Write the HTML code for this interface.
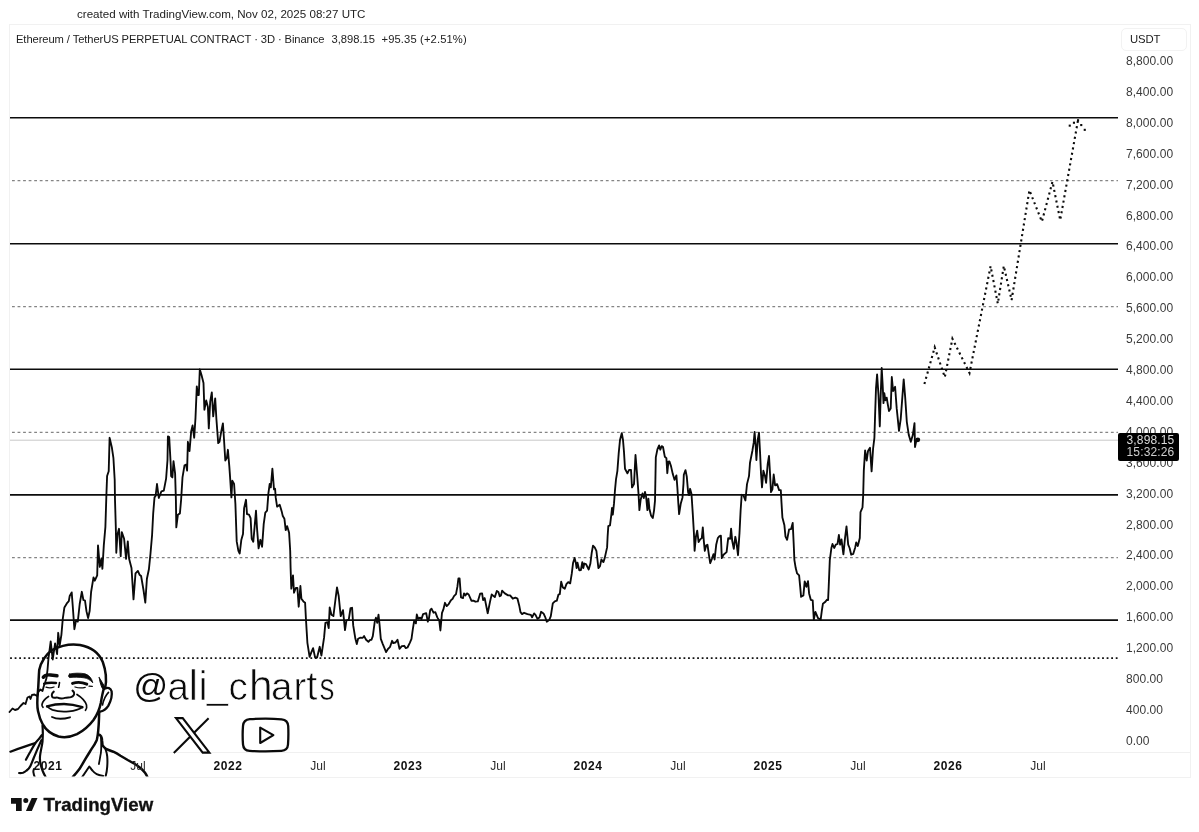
<!DOCTYPE html>
<html><head><meta charset="utf-8"><title>ETHUSDT chart</title>
<style>
html,body{margin:0;padding:0;background:#fff;}
body{width:1199px;height:832px;position:relative;overflow:hidden;font-family:"Liberation Sans",sans-serif;color:#222;}
.t{position:absolute;white-space:nowrap;line-height:1;}
#frame{position:absolute;left:9px;top:24px;width:1182px;height:753.5px;border:1px solid #f1f1f1;box-sizing:border-box;}
#taxis{position:absolute;left:9px;top:752px;width:1181px;height:1px;background:#f0f0f0;}
.pl{position:absolute;left:1126px;font-size:12px;color:#3a3a3a;line-height:12px;height:12px;white-space:nowrap;letter-spacing:0.05px}
.tl{position:absolute;top:760.4px;font-size:12px;line-height:12px;color:#2a2a2a;white-space:nowrap;transform:translateX(-50%);}
.tl.b{font-weight:bold;color:#111;letter-spacing:0.6px}
#chart{position:absolute;left:0;top:0;}
</style></head><body>
<div class="t" id="hdr" style="left:77px;top:8px;font-size:11.6px;color:#222">created with TradingView.com, Nov 02, 2025 08:27 UTC</div>
<div id="frame"></div>
<div id="taxis"></div>
<div class="t" id="sym" style="left:16px;top:33.5px;font-size:11.2px;color:#222;letter-spacing:-0.09px">Ethereum / TetherUS PERPETUAL CONTRACT · 3D · Binance</div>
<div class="t" id="sym2" style="left:331.5px;top:33.5px;font-size:11.2px;color:#222">3,898.15</div>
<div class="t" id="sym3" style="left:381.5px;top:33.5px;font-size:11.2px;color:#222;letter-spacing:0.13px">+95.35 (+2.51%)</div>
<div id="usdt" style="position:absolute;left:1121px;top:28px;width:66px;height:23px;border:1px solid #f2f2f2;border-radius:5px;box-sizing:border-box;"></div>
<div class="t" style="left:1130px;top:33.5px;font-size:11.3px;color:#1a1a1a;letter-spacing:-0.1px">USDT</div>

<svg id="chart" width="1199" height="832" viewBox="0 0 1199 832">
<g id="hlines" stroke="#0c0c0c" stroke-width="1.6" fill="none">
<line x1="10" x2="1118" y1="117.7" y2="117.7"/>
<line x1="10" x2="1118" y1="243.8" y2="243.8"/>
<line x1="10" x2="1118" y1="369.3" y2="369.3"/>
<line x1="10" x2="1118" y1="494.9" y2="494.9"/>
<line x1="10" x2="1118" y1="620.1" y2="620.1"/>
</g>
<g id="dlines" stroke="#858585" stroke-width="1.3" fill="none" stroke-dasharray="2.8 2.75">
<line x1="12" x2="1118" y1="180.7" y2="180.7"/>
<line x1="12" x2="1118" y1="306.6" y2="306.6"/>
<line x1="12" x2="1118" y1="432.3" y2="432.3"/>
<line x1="12" x2="1118" y1="557.7" y2="557.7"/>
</g>
<line x1="10.1" x2="1118" y1="658.2" y2="658.2" stroke="#111" stroke-width="1.8" stroke-dasharray="1.8 2.75"/>
<line x1="10" x2="1118" y1="440.2" y2="440.2" stroke="#c8c8c8" stroke-width="1"/>
<path id="price" d="M9.5 712.0 L12.5 708.5 L15.0 710.0 L18.0 709.0 L20.5 706.0 L23.5 703.0 L25.5 704.0 L27.5 697.5 L29.5 696.5 L30.5 699.0 L32.0 694.8 L34.5 694.5 L37.0 696.0 L38.5 691.5 L40.5 689.5 L42.5 691.0 L44.0 685.5 L45.0 683.0 L46.5 678.0 L47.5 670.0 L48.5 658.0 L50.7 641.4 L52.7 659.5 L55.1 643.4 L57.1 654.1 L58.2 632.8 L59.7 645.4 L61.4 634.8 L62.8 618.7 L64.4 607.4 L66.8 603.4 L68.8 601.1 L69.7 596.0 L71.7 592.4 L72.8 606.7 L74.4 629.2 L76.1 620.1 L77.8 621.7 L79.7 604.0 L81.8 591.8 L83.4 600.0 L85.0 600.7 L86.5 611.4 L88.1 618.1 L89.7 610.7 L91.1 592.0 L93.5 577.4 L94.8 580.7 L97.2 575.4 L98.0 545.4 L99.8 566.8 L101.4 558.8 L102.4 568.8 L103.8 545.4 L105.4 526.8 L106.4 494.7 L107.1 476.0 L108.7 471.3 L109.6 437.8 L111.8 447.1 L113.4 457.8 L114.7 480.0 L115.0 500.0 L115.8 526.8 L116.3 552.8 L117.4 534.8 L119.0 528.8 L120.7 556.1 L121.8 532.1 L124.1 538.8 L126.1 558.8 L127.8 541.4 L129.1 558.8 L131.5 568.0 L133.5 599.4 L135.5 573.4 L137.9 570.9 L139.5 574.7 L141.1 576.0 L143.5 590.0 L145.3 602.7 L146.9 578.7 L148.9 569.3 L150.5 553.5 L152.1 534.8 L153.2 513.4 L154.5 497.4 L155.6 496.0 L157.0 484.0 L158.8 498.0 L161.4 491.4 L163.8 490.7 L166.1 478.7 L167.5 460.0 L167.9 436.4 L169.2 437.1 L170.8 466.0 L171.1 476.0 L172.4 477.4 L173.5 461.2 L175.1 473.4 L175.9 500.0 L176.3 527.4 L177.9 514.7 L179.9 513.4 L181.1 500.0 L182.5 477.4 L184.5 465.3 L186.1 464.7 L187.1 470.7 L187.9 441.8 L189.5 451.1 L191.2 431.1 L192.6 425.5 L194.2 437.8 L195.5 417.8 L196.8 386.4 L197.8 395.0 L198.8 395.0 L199.8 369.3 L201.5 375.0 L203.5 383.0 L204.4 409.7 L206.2 400.4 L207.9 407.0 L208.8 428.4 L210.2 401.7 L211.8 392.4 L213.2 416.4 L215.2 398.4 L216.4 419.0 L218.2 443.1 L219.5 441.8 L221.3 431.1 L222.9 423.4 L223.9 437.8 L225.3 460.5 L226.9 457.8 L227.9 449.8 L229.3 466.1 L230.1 477.4 L231.4 497.4 L232.3 480.7 L234.1 484.0 L235.4 504.0 L236.7 541.4 L238.4 550.8 L239.7 553.5 L241.3 540.1 L243.0 534.1 L244.1 508.1 L246.0 499.8 L247.0 514.1 L249.0 514.7 L250.6 518.1 L251.7 538.8 L253.3 541.7 L254.6 526.8 L256.0 510.7 L257.0 528.1 L258.6 548.4 L260.4 539.8 L262.1 546.8 L263.7 524.1 L265.3 512.7 L267.1 510.7 L268.4 493.4 L269.7 484.0 L270.8 487.4 L272.4 468.7 L274.0 489.4 L275.1 488.7 L275.7 497.4 L277.1 506.7 L279.7 504.7 L281.7 511.4 L282.8 516.1 L284.4 518.7 L285.7 530.1 L287.1 526.1 L289.1 532.8 L290.2 550.8 L290.6 568.0 L291.3 588.7 L293.0 575.4 L294.0 592.7 L295.8 588.0 L297.4 588.0 L298.7 606.7 L300.4 586.0 L301.4 598.7 L303.4 601.4 L305.1 602.7 L306.0 620.1 L307.4 642.8 L309.6 656.8 L311.4 652.1 L313.1 648.1 L315.1 657.5 L317.1 657.5 L319.7 646.8 L321.4 655.5 L324.1 637.4 L325.4 622.8 L327.4 622.1 L328.7 628.1 L329.7 607.4 L331.4 614.7 L333.4 616.1 L335.4 600.0 L337.0 587.4 L338.7 596.0 L340.7 616.1 L343.0 610.1 L345.0 630.1 L346.4 620.7 L348.8 619.4 L350.5 608.1 L352.1 607.8 L353.2 625.4 L355.4 638.8 L356.8 644.1 L358.1 638.8 L360.1 637.7 L362.8 637.8 L364.1 636.1 L366.1 639.8 L368.4 641.8 L370.1 639.8 L371.5 639.8 L372.8 636.1 L374.8 621.4 L375.9 617.7 L377.2 622.8 L378.5 614.7 L379.5 624.1 L380.8 638.8 L382.8 644.1 L386.1 652.1 L388.1 648.8 L390.1 646.8 L392.1 640.8 L393.2 643.0 L395.5 642.5 L397.5 639.7 L399.5 648.8 L401.8 646.1 L404.2 645.8 L405.8 648.1 L407.5 647.5 L409.8 642.8 L411.5 638.8 L412.8 629.4 L414.2 620.7 L415.9 623.4 L416.8 614.5 L418.2 618.7 L420.2 617.7 L421.5 619.0 L423.1 614.1 L426.2 613.1 L427.8 621.7 L428.9 618.7 L430.2 610.1 L431.5 608.7 L433.5 612.7 L435.3 612.1 L437.3 617.4 L439.3 620.8 L440.4 630.5 L442.0 612.8 L443.4 609.4 L445.0 602.8 L446.7 606.1 L448.7 604.1 L451.1 600.1 L452.7 598.7 L454.0 596.1 L456.0 594.1 L457.4 586.7 L458.4 578.5 L459.6 578.5 L461.0 597.4 L463.0 598.1 L464.0 593.4 L465.4 595.4 L467.0 593.4 L468.7 594.5 L471.4 600.7 L473.4 600.7 L475.4 601.7 L477.8 601.4 L480.1 593.7 L482.1 593.4 L483.1 600.1 L484.7 598.1 L487.7 613.2 L490.1 601.4 L491.7 594.5 L494.8 597.1 L496.8 591.0 L498.4 592.1 L499.7 596.3 L501.0 595.4 L502.1 590.7 L504.8 593.4 L508.1 595.4 L510.1 595.4 L512.8 598.7 L515.4 597.7 L517.5 598.7 L519.2 605.4 L520.5 612.1 L522.1 614.1 L524.1 612.8 L527.5 614.1 L530.8 614.8 L532.1 617.2 L534.1 613.4 L535.5 614.8 L537.5 618.8 L539.5 617.4 L541.1 611.8 L543.5 613.4 L545.1 616.8 L546.8 621.7 L549.2 620.1 L550.8 616.1 L552.8 603.4 L554.8 601.4 L556.8 600.7 L558.4 594.7 L559.8 594.1 L561.2 581.7 L562.8 587.4 L564.8 588.7 L566.4 584.1 L568.2 582.1 L570.2 583.4 L571.8 573.4 L573.1 562.7 L574.6 558.0 L575.8 562.7 L576.6 568.0 L577.5 562.7 L579.3 570.4 L580.9 570.0 L582.3 562.1 L583.3 568.1 L584.3 563.5 L586.0 564.1 L588.7 569.5 L590.4 563.5 L591.7 552.8 L593.0 545.7 L594.7 547.4 L596.4 550.8 L597.4 559.5 L598.4 568.1 L600.0 566.1 L601.4 559.5 L603.4 562.1 L604.7 558.1 L607.1 547.4 L607.6 536.8 L608.3 526.1 L610.0 525.4 L611.4 514.1 L612.0 508.0 L612.8 514.7 L614.0 503.4 L615.0 490.0 L616.0 479.3 L617.4 470.8 L618.7 453.4 L620.0 440.0 L621.8 433.1 L623.0 440.0 L624.0 452.1 L625.0 468.8 L627.4 473.4 L629.1 469.8 L631.0 469.8 L632.0 487.4 L634.0 484.1 L635.5 455.0 L637.1 474.8 L638.5 493.5 L639.4 510.1 L640.7 499.4 L642.5 493.4 L643.8 498.0 L645.0 492.0 L646.1 496.7 L647.4 510.1 L648.4 498.7 L649.4 508.7 L651.0 515.4 L652.8 518.1 L654.1 510.1 L655.0 500.7 L655.4 480.1 L655.8 457.4 L657.4 449.4 L659.1 445.4 L660.3 449.7 L661.7 446.1 L663.0 447.0 L664.8 456.7 L666.4 458.1 L667.3 473.2 L668.4 461.7 L669.4 461.4 L671.0 466.1 L672.8 474.1 L674.5 479.8 L676.4 475.4 L677.4 488.1 L678.3 503.0 L679.1 514.1 L680.8 503.4 L682.5 497.4 L683.5 483.4 L683.8 474.8 L685.5 470.1 L686.8 476.8 L688.1 492.1 L689.1 495.1 L690.1 488.8 L691.5 494.0 L692.8 514.1 L693.9 532.7 L694.6 550.8 L695.9 536.8 L697.2 530.7 L698.6 542.1 L700.2 539.4 L701.8 538.1 L702.8 527.4 L703.8 540.8 L704.8 550.8 L706.2 545.4 L707.5 544.8 L708.8 554.1 L710.2 563.2 L711.9 558.8 L713.5 554.1 L714.6 559.5 L716.2 544.8 L717.8 538.1 L719.5 536.1 L720.9 535.7 L721.8 558.1 L723.5 554.8 L726.6 552.1 L728.2 538.1 L730.2 538.8 L731.1 528.7 L732.2 540.8 L733.8 548.8 L735.3 536.8 L736.5 542.8 L738.0 555.2 L739.5 533.0 L740.6 510.8 L741.7 494.8 L743.3 495.0 L745.4 500.5 L747.0 484.1 L749.0 476.1 L750.0 462.7 L752.4 450.7 L753.7 442.7 L754.6 432.0 L755.7 446.7 L756.4 460.0 L757.7 440.0 L759.0 432.7 L760.1 453.4 L761.0 473.4 L762.0 487.4 L763.4 470.7 L765.0 476.1 L766.1 482.8 L767.7 464.1 L769.0 456.0 L770.0 473.4 L771.0 492.1 L772.4 489.4 L773.7 474.5 L775.1 485.4 L777.1 484.1 L779.1 490.1 L780.8 490.1 L781.5 502.8 L782.4 517.5 L784.4 525.3 L785.5 536.7 L787.1 539.8 L789.1 529.3 L791.1 529.1 L792.7 522.9 L793.7 544.0 L794.4 560.1 L795.7 568.1 L797.1 573.4 L799.1 575.4 L800.2 586.8 L801.1 596.8 L803.4 595.4 L804.7 581.4 L806.4 586.8 L808.0 581.1 L809.1 593.4 L810.8 599.8 L812.7 600.4 L813.8 619.5 L815.4 611.9 L818.0 618.1 L820.7 619.5 L821.8 610.8 L822.9 603.8 L825.1 602.1 L826.9 599.8 L828.1 600.1 L828.7 586.8 L829.8 560.1 L831.4 548.0 L832.5 544.0 L834.2 548.0 L835.8 544.7 L837.5 544.0 L838.9 535.0 L840.1 544.7 L841.5 539.4 L843.4 554.4 L845.1 537.4 L846.5 526.4 L848.2 544.7 L849.6 548.0 L851.2 554.7 L853.2 554.0 L855.2 547.4 L856.2 542.4 L857.8 546.0 L859.8 538.0 L860.5 512.1 L862.5 507.5 L863.2 494.8 L863.8 470.7 L865.1 450.5 L866.7 460.5 L868.0 451.1 L870.0 447.8 L871.6 471.4 L873.1 448.5 L874.4 437.8 L875.1 415.1 L876.0 388.4 L877.1 374.4 L878.5 395.1 L879.8 426.4 L880.7 395.1 L881.7 368.0 L882.7 385.7 L883.5 403.1 L884.3 393.1 L885.4 400.4 L886.7 397.7 L887.8 404.4 L889.0 411.1 L890.7 408.4 L891.8 377.0 L893.1 391.0 L895.1 386.8 L896.7 408.4 L899.0 430.8 L900.7 419.1 L902.5 395.1 L903.7 379.4 L905.2 397.7 L906.8 421.8 L908.8 435.1 L910.8 441.8 L912.8 435.1 L914.5 423.1 L915.0 447.1 L916.4 440.4 L917.8 439.8" fill="none" stroke="#0a0a0a" stroke-width="1.85" stroke-linejoin="round" stroke-linecap="round"/>
<circle cx="917.8" cy="439.8" r="2.4" fill="#0a0a0a"/>
<path id="proj" d="M924.4 384 L934.7 347.4 L944.8 377.2 L952.4 338.7 L969.5 373 L990.6 266.2 L997.8 303.6 L1003.8 265.9 L1011.6 300.1 L1029.4 190.3 L1041.9 221.5 L1052.5 181.7 L1060.2 220.1 L1078 120.2" fill="none" stroke="#0c0c0c" stroke-width="2.1" stroke-dasharray="2.1 3.3"/>
<g id="projhead" fill="#0c0c0c"><rect x="1077" y="119.2" width="2.1" height="2.1"/><rect x="1072.9" y="121.7" width="2.1" height="2.1"/><rect x="1068.7" y="124.6" width="2.1" height="2.1"/><rect x="1080.2" y="124" width="2.1" height="2.1"/><rect x="1083.7" y="128.8" width="2.1" height="2.1"/></g>
</svg>

<svg id="avatar" style="position:absolute;left:0;top:0" width="1199" height="832" viewBox="0 0 1199 832">
<defs><clipPath id="cf"><rect x="9" y="600" width="400" height="176.6"/></clipPath></defs>
<g clip-path="url(#cf)" fill="none" stroke="#0a0a0a" stroke-linecap="round" stroke-linejoin="round">
<!-- head outline -->
<path stroke-width="2.5" d="M105.2 688 C106.6 681 106.4 672 102.8 662 C99 653 91 647 80 645 C72 643.6 62 645 52 650 C45.4 655 41 662 39.2 670 C38.6 678 38.6 684 37.9 692 C37.1 700 37 706 38 711 C39 716 40.6 720.5 42.8 724.5 C46 730 52 734.5 58.5 736.5 C64 737.8 71 737 77 734.2 C83 731 89 726 93.5 720 C97 715 99.5 709.5 100.8 703 C101.8 697 102.8 692 104 688"/>
<!-- sideburn -->
<path stroke-width="1" fill="#0a0a0a" d="M99.2 677.6 C101 680.4 103.6 684.6 105.4 688.4 L104 690.2 C101.8 688.6 100.4 684.5 99.2 677.6 Z"/>
<!-- ear -->
<path stroke-width="2.3" d="M105.2 688.4 C107.6 687.2 110.6 687.8 111.6 691.2 C112.3 695 111 700.6 108.4 705.6 C106.4 708.8 103.2 711.2 100 711.6"/>
<path stroke-width="1.6" d="M108.5 692.4 C106 695 103.6 699.6 102.5 705"/>
<!-- eyebrows -->
<path stroke-width="3.4" d="M43.3 677.2 C44.6 675.2 47.4 674.7 50.5 675 L57 675.7"/>
<path stroke-width="0.8" fill="#0a0a0a" d="M69.6 674 C74 673 80 672.8 85 673.8 C89 675 92 678.5 92.8 682.8 C90 679.8 87.5 678.4 84 677.8 C79 677 74 677.1 69.8 677.6 C68.3 677.4 68.2 674.6 69.6 674 Z"/>
<!-- eyes -->
<path stroke-width="2.5" d="M44.2 683.6 C48 682.6 52 682.6 56 683"/>
<path stroke-width="1.3" d="M46 687.2 C48.5 688 51.5 688 54 687"/>
<path stroke-width="2.9" d="M72.5 683.4 C77 681.9 82.5 682.3 86.8 684.2"/>
<path stroke-width="1.3" d="M75 687 C78.5 688.2 82 688.2 85.2 687.4"/>
<path stroke-width="1.2" d="M89 686.2 L92.3 686.4"/>
<!-- nose -->
<path stroke-width="1.6" d="M59.5 682.6 C59.3 684.5 59 686 58.6 687.2"/>
<path stroke-width="2" d="M53.8 691.6 C52 693 51 695.6 52.5 697.3 C54 698.6 56 697.1 57.6 697.6 C59.6 698.6 62 698.9 65 697.9 C67 697.2 69 697.6 71 697.1 C73.5 696.5 74.6 694.5 74 692.5 C73.6 691.6 73 691 72.5 690.6"/>
<!-- smile lines -->
<path stroke-width="1.7" d="M48.5 696.5 C45.5 698.5 42.5 701.5 42 704.5 C41.8 705.8 42.3 706.8 43 707.3"/>
<path stroke-width="1.7" d="M77 694.5 C81 697 85 700.5 86.5 705 C87 707 86.5 709 85.5 710.3"/>
<!-- mouth -->
<path stroke-width="2.3" d="M47 706.4 C52.4 704.8 58 704 64 704 C70 704.1 76.6 705.4 82.4 707.2"/>
<path stroke-width="1.8" d="M47 706.4 C48.6 707.8 50.4 709 52.4 709.8 C57 711.4 64 711.8 69 711.3 C74 710.8 78.8 709.6 82.4 707.2"/>
<path stroke-width="1.9" d="M52 717 C56 719 62 719.6 70 717.3"/>
<!-- neck left + collar -->
<path stroke-width="2.2" d="M42.5 725.8 C43 731 42.9 736 42.5 741.6 C42 746 40.6 751 40 756.1 C39.8 759 40 761.5 40.4 763.3 C41 766 41.6 768.5 42.5 770.5 C43.3 772.6 44.3 774.6 45.4 776.6"/>
<path stroke-width="2.2" d="M41.8 735.2 C40 738 37.5 740.8 35.3 743.1 C30 744.6 22 747.3 10.4 751.7"/>
<path stroke-width="2.2" d="M35.3 743.1 C33.5 746 31.8 749 30.3 751.7 C28.6 754.6 27.2 757.3 25.9 759.7"/>
<path stroke-width="2.2" d="M41.4 740.2 C40.4 742.6 39.3 745 38.2 747.4 C36.6 751 35.2 754.5 33.9 757.5 C32.6 760.6 31.6 763.6 30.3 766.2 C29.4 768 28 769.5 26.6 770.5 C25.4 771.5 24.2 772.3 23 772.7 C21.8 773 20.4 773.1 19.1 773"/>
<path stroke-width="2" d="M33.9 769.1 C33.3 770.5 33.2 771.6 33.5 772.7 C33.7 774.2 34.1 775.5 34.6 776.6"/>
<!-- neck right + collar -->
<path stroke-width="2.5" d="M99.2 712 C99 718 98.9 723 98.5 727.2 C98.3 730 98.1 732.4 97.8 734.4 C97.5 736.6 97.2 738.6 96.7 740.2 C95.3 743.5 93.5 746.2 91.6 748.9 C89.7 752 87.8 755 85.9 758.2 C83.8 761.8 81.6 765.5 79.4 769.1 C77.3 772 75.1 774.5 72.9 776.8"/>
<path stroke-width="2.5" d="M98.5 734.4 C99.6 734.6 100.5 735.2 101 736.2 C101.8 737.6 102 739.2 102.1 740.9 C102.3 742.4 102.4 743.8 102.5 745.3 C103.5 746.8 104.6 748 106.1 748.9 C108.3 750 110.8 750.9 113.3 751.7 C115.8 752.8 118.2 754.2 120.5 755.7 L127.7 760 L134.9 764 C137 765.3 139 766.8 140.7 768.3 C142.3 769.7 143.8 771.2 145 772.7 C145.9 773.9 146.6 775.1 147.2 776.6"/>
<path stroke-width="1.8" d="M101 737.3 C101.2 741 101.3 745 101.2 748.9 C101.1 751.5 100.8 754 100.3 756.1 C99.9 758.8 99.4 761.5 98.9 764"/>
<path stroke-width="2" d="M105.4 748.9 C106.3 751.2 106.9 753.6 107.2 756.1 C107.5 759.6 107.5 763.3 107.2 766.9 C107 770 106.5 773 105.7 775.9"/>
<path stroke-width="2" d="M82.3 776.8 C83.8 774.7 85.2 772.6 86.6 770.5 L89.3 766.5 C90.3 767.8 91.3 769.2 92.4 770.5 C93.6 772 95 773.3 96.7 774.1 C98.7 775 101 775.6 103.2 775.9"/>
</g>
</svg>

<svg id="handle" style="position:absolute;left:0;top:0" width="1199" height="832" viewBox="0 0 1199 832">
<text y="700" font-family="'Liberation Sans',sans-serif" font-size="38.5" fill="#0a0a0a" stroke="#fff" stroke-width="0.7"><tspan font-size="34" x="133.6" y="696.6" stroke="none">@</tspan><tspan x="167.6" y="700">a</tspan><tspan x="188.4" font-size="43">l</tspan><tspan x="198.4" font-size="41">i</tspan><tspan x="206.8" y="697.6">_</tspan><tspan x="228.4" y="700">c</tspan><tspan x="249" font-size="42.5">h</tspan><tspan x="271" font-size="38.5">a</tspan><tspan x="293.4">r</tspan><tspan x="306.2" font-size="40">t</tspan><tspan x="319.4" font-size="38.5" textLength="15" lengthAdjust="spacingAndGlyphs">s</tspan></text>
<!-- X logo -->
<g fill="none" stroke="#0a0a0a" stroke-linejoin="miter">
<path d="M208.6 718.2 L173.8 753" stroke-width="2.1"/>
<path d="M176 718.1 L182.7 718.1 L209.4 752.6 L202.7 752.6 Z" fill="#fff" stroke-width="2.1"/>
</g>
<!-- YouTube -->
<path d="M249.8 719.2 C258 718.6 274 718.6 281.6 719.3 C286 719.8 288 722 288.2 726 C288.5 732 288.4 739 288 744.5 C287.7 748.6 285.6 750.6 281.4 750.9 C273 751.4 258 751.4 249.6 750.9 C245.4 750.6 243.3 748.6 243 744.4 C242.6 739 242.6 731 243 726 C243.3 721.8 245.4 719.6 249.8 719.2 Z" fill="none" stroke="#0a0a0a" stroke-width="2.3"/>
<path d="M260.2 727.6 L260.2 743 L273.4 735.1 Z" fill="none" stroke="#0a0a0a" stroke-width="2.1" stroke-linejoin="round"/>
</svg>

<div id="plabels">
<div class="pl" style="top:55.1px">8,800.00</div>
<div class="pl" style="top:86.0px">8,400.00</div>
<div class="pl" style="top:116.9px">8,000.00</div>
<div class="pl" style="top:147.8px">7,600.00</div>
<div class="pl" style="top:178.7px">7,200.00</div>
<div class="pl" style="top:209.6px">6,800.00</div>
<div class="pl" style="top:240.4px">6,400.00</div>
<div class="pl" style="top:271.3px">6,000.00</div>
<div class="pl" style="top:302.2px">5,600.00</div>
<div class="pl" style="top:333.1px">5,200.00</div>
<div class="pl" style="top:364.0px">4,800.00</div>
<div class="pl" style="top:394.9px">4,400.00</div>
<div class="pl" style="top:425.8px">4,000.00</div>
<div class="pl" style="top:456.7px">3,600.00</div>
<div class="pl" style="top:487.6px">3,200.00</div>
<div class="pl" style="top:518.5px">2,800.00</div>
<div class="pl" style="top:549.4px">2,400.00</div>
<div class="pl" style="top:580.2px">2,000.00</div>
<div class="pl" style="top:611.1px">1,600.00</div>
<div class="pl" style="top:642.0px">1,200.00</div>
<div class="pl" style="top:672.9px">800.00</div>
<div class="pl" style="top:703.8px">400.00</div>
<div class="pl" style="top:734.7px">0.00</div>
</div>
<div style="position:absolute;left:1118.3px;top:432.8px;width:60.7px;height:27.8px;background:#000;border-radius:2px;"></div>
<div class="t" style="left:1126.5px;top:433.7px;font-size:12px;color:#dcdcdc;line-height:12px;letter-spacing:0.15px">3,898.15</div>
<div class="t" style="left:1126.5px;top:446.3px;font-size:12px;color:#cfcfcf;line-height:12px;letter-spacing:0.15px">15:32:26</div>

<div class="tl b" style="left:48px">2021</div>
<div class="tl" style="left:138px">Jul</div>
<div class="tl b" style="left:228px">2022</div>
<div class="tl" style="left:318px">Jul</div>
<div class="tl b" style="left:408px">2023</div>
<div class="tl" style="left:498px">Jul</div>
<div class="tl b" style="left:588px">2024</div>
<div class="tl" style="left:678px">Jul</div>
<div class="tl b" style="left:768px">2025</div>
<div class="tl" style="left:858px">Jul</div>
<div class="tl b" style="left:948px">2026</div>
<div class="tl" style="left:1038px">Jul</div>

<svg style="position:absolute;left:11px;top:797.5px" width="27" height="13.5" viewBox="0 0 27 13.5">
<path d="M0 0H10.7V13.3H5V5.8H0Z" fill="#111"/>
<circle cx="14.8" cy="2.6" r="2.5" fill="#111"/>
<path d="M20.7 0H26.5L20.7 13.3H14.8Z" fill="#111"/>
</svg>
<div class="t" id="tv" style="left:43.5px;top:796px;font-size:18.6px;font-weight:bold;color:#111;letter-spacing:0.05px;-webkit-text-stroke:0.35px #111">TradingView</div>
</body></html>
